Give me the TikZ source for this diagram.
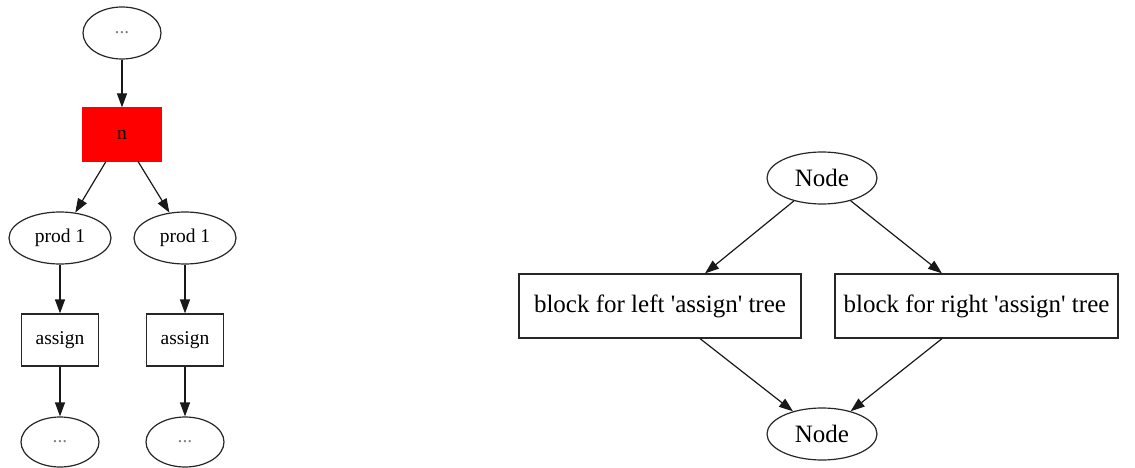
\documentclass[tikz,border=0pt]{standalone}
\usepackage{fontspec}
\setmainfont{Liberation Serif}
\usetikzlibrary{shapes.geometric,arrows.meta}
\begin{document}
\begin{tikzpicture}[x=1pt,y=-1pt,
  every node/.style={inner sep=0pt,line width=1.2pt,draw=black!85},
  sm/.style={font=\fontsize{19.5}{22}\selectfont},
  lg/.style={font=\fontsize{25}{28}\selectfont},
  ell/.style={ellipse},
  boxn/.style={rectangle},
  dots/.style={text=black!50},
  conn/.style={line width=1.2pt,draw=black!90,-{Triangle[length=14pt,width=10pt]}}]
\useasboundingbox (0,0) rectangle (1135,468);
% left graph
\node[ell,sm,dots,minimum width=78pt,minimum height=52pt] (t) at (122,33) {...};
\node[boxn,sm,fill=red,draw=red,minimum width=79pt,minimum height=53pt] (n) at (122,134.5) {n};
\node[ell,sm,minimum width=102pt,minimum height=52pt] (p1) at (60,238) {prod 1};
\node[ell,sm,minimum width=102pt,minimum height=52pt] (p2) at (185,238) {prod 1};
\node[boxn,sm,minimum width=77pt,minimum height=52pt] (a1) at (60,340) {assign};
\node[boxn,sm,minimum width=77pt,minimum height=52pt] (a2) at (185,340) {assign};
\node[ell,sm,dots,minimum width=78pt,minimum height=50pt] (d1) at (60,442) {...};
\node[ell,sm,dots,minimum width=78pt,minimum height=50pt] (d2) at (185,442) {...};
\draw[conn] (t) -- (n);
\draw[conn] (n.south west)++(24,0) coordinate (nl) (nl) -- (p1);
\draw[conn] (n.south east)++(-24,0) coordinate (nr) (nr) -- (p2);
\draw[conn] (p1) -- (a1);
\draw[conn] (p2) -- (a2);
\draw[conn] (a1) -- (d1);
\draw[conn] (a2) -- (d2);
% right graph
\node[ell,lg,minimum width=110pt,minimum height=52pt] (N1) at (822,178) {Node};
\node[boxn,lg,minimum width=282pt,minimum height=64pt] (B1) at (660,306) {block for left \textquotesingle assign\textquotesingle{} tree};
\node[boxn,lg,minimum width=283pt,minimum height=64pt] (B2) at (976.5,306) {block for right \textquotesingle assign\textquotesingle{} tree};
\node[ell,lg,minimum width=110pt,minimum height=52pt] (N2) at (822,434) {Node};
\draw[conn] (N1) -- (B1.north -| 705,0);
\draw[conn] (N1) -- (B2.north -| 942,0);
\draw[conn] (B1.south -| 700,0) -- (N2);
\draw[conn] (B2.south -| 942,0) -- (N2);
\end{tikzpicture}
\end{document}
